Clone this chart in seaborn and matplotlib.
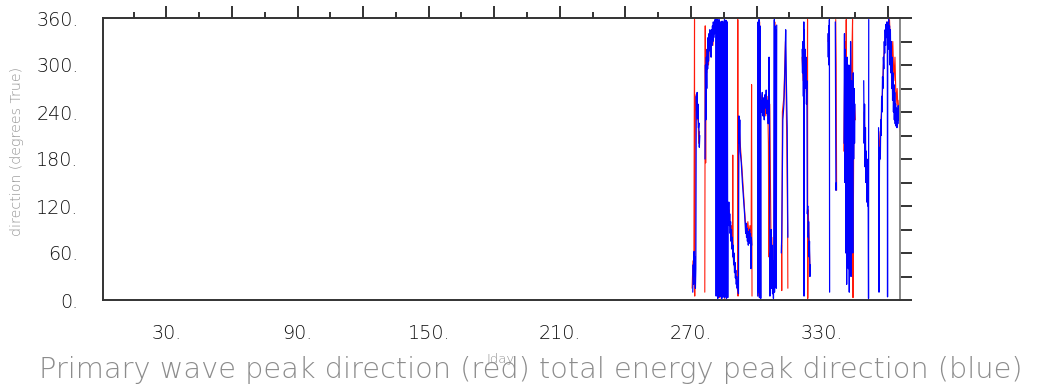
import numpy as np
import pandas as pd
import matplotlib
matplotlib.use('Agg')
import matplotlib.pyplot as plt
import seaborn as sns

# (jday, direction in degrees True); None marks a gap in the record
red_pts = [
    (270.5, 15), (270.9, 50), (271.3, 35), (271.6, 358), (271.7, 5), (271.9, 240), (272.3, 262),
    (272.7, 230), (273.1, 250), (273.5, 200), (273.9, 215),
    None,
    (276.3, 10), (276.5, 350), (276.7, 175), (276.9, 320), (277.2, 290), (277.6, 320), (278.0, 300),
    (278.5, 335), (279.0, 315), (279.5, 345), (280.0, 325), (280.5, 350), (281.0, 340), (281.5, 358),
    (282.0, 345), (282.3, 5), (282.5, 350), (283.0, 3), (283.2, 355), (283.8, 2), (284.0, 350),
    (284.6, 5), (284.8, 345), (285.4, 2), (285.6, 350), (286.2, 8), (286.5, 120), (287.0, 105),
    (287.5, 115), (288.0, 90), (288.5, 95), (289.0, 70), (289.1, 185), (289.2, 60), (289.5, 50),
    (290.0, 40), (290.5, 30), (291.0, 20), (291.3, 12), (291.4, 358), (291.5, 5), (291.8, 230),
    (292.5, 200), (293.5, 160), (294.5, 115), (295.0, 95), (295.5, 88), (296.0, 100), (296.5, 85),
    (297.0, 95), (297.5, 80), (297.7, 275), (297.9, 5),
    None,
    (300.6, 8), (300.8, 352), (301.0, 5), (301.4, 355), (301.8, 250), (302.5, 262), (303.0, 238),
    (303.6, 255), (304.2, 235), (304.8, 260), (305.2, 230), (305.4, 200), (305.6, 55), (306.0, 250),
    (306.5, 100), (306.7, 45), (307.0, 80), (307.5, 20), (308.0, 50), (308.3, 355), (308.5, 20),
    (309.0, 345),
    None,
    (311.4, 70), (311.5, 12), (311.8, 240), (312.5, 260), (313.2, 330), (313.8, 200), (314.2, 90),
    (314.3, 15),
    None,
    (320.8, 310), (321.3, 280), (321.8, 330), (322.3, 290), (322.8, 265), (323.2, 250), (323.3, 358),
    (323.4, 2), (323.6, 115), (323.9, 90), (324.2, 60), (324.5, 35),
    None,
    (332.7, 330), (333.0, 345), (333.3, 320),
    None,
    (336.2, 358), (336.4, 300), (336.6, 140),
    None,
    (339.9, 190), (340.4, 330), (340.8, 120), (341.0, 358), (341.2, 60), (341.6, 250), (342.0, 100),
    (342.5, 280), (343.0, 150), (343.5, 300), (343.9, 358), (344.1, 3), (344.4, 190), (344.8, 250),
    (345.2, 230),
    None,
    (349.2, 240), (349.6, 200), (350.0, 170), (350.4, 145), (350.8, 160),
    None,
    (355.9, 215), (356.3, 180), (356.8, 225), (357.4, 250), (358.0, 300), (358.6, 330), (359.2, 345),
    (359.8, 355), (360.3, 340), (360.8, 358), (361.3, 320), (361.8, 300), (362.3, 330), (362.8, 280),
    (363.3, 310), (363.8, 250), (364.3, 270), (364.8, 230), (365.2, 255), (365.4, 215),
]

blue_pts = [
    (270.8, 10), (271.0, 45), (271.2, 20), (271.4, 62), (271.6, 30), (271.8, 55), (272.0, 15),
    (272.2, 40), (272.4, 260), (272.6, 245), (272.8, 265), (273.0, 232), (273.2, 250), (273.4, 220),
    (273.6, 226), (273.8, 195), (274.0, 210),
    None,
    (276.4, 180), (276.6, 300), (276.8, 230), (277.0, 310), (277.2, 270), (277.4, 320), (277.6, 295),
    (277.8, 335), (278.0, 305), (278.2, 340), (278.4, 318), (278.6, 345), (278.8, 320), (279.0, 338),
    (279.2, 310), (279.4, 345), (279.6, 325), (279.8, 350), (280.0, 330), (280.2, 355), (280.4, 335),
    (280.6, 352), (280.8, 340), (281.0, 358), (281.2, 345), (281.4, 359), (281.5, 5), (281.6, 355),
    (281.8, 340), (282.0, 358), (282.2, 2), (282.3, 350), (282.5, 3), (282.6, 345), (282.8, 358),
    (283.0, 8), (283.1, 352), (283.3, 4), (283.4, 355), (283.6, 340), (283.8, 6), (283.9, 350),
    (284.1, 2), (284.2, 356), (284.4, 345), (284.6, 5), (284.7, 350), (284.9, 8), (285.0, 355),
    (285.2, 3), (285.3, 358), (285.5, 10), (285.6, 352), (285.8, 4), (286.0, 357), (286.2, 2),
    (286.3, 350), (286.5, 6), (286.6, 355), (286.8, 3),
    (286.9, 120), (287.1, 100), (287.3, 125), (287.5, 95), (287.7, 110), (287.9, 85), (288.1, 100),
    (288.3, 75), (288.5, 90), (288.7, 65), (288.9, 80), (289.1, 55), (289.3, 70), (289.5, 45),
    (289.7, 60), (289.9, 35), (290.1, 48), (290.3, 28), (290.5, 38), (290.7, 20), (290.9, 30),
    (291.1, 15), (291.3, 25), (291.5, 12), (291.7, 8), (291.9, 235), (292.1, 200), (292.3, 230),
    (292.5, 190), (293.0, 175), (293.5, 150), (294.0, 130), (294.5, 110), (294.8, 95), (295.0, 85),
    (295.2, 98), (295.4, 80), (295.6, 92), (295.8, 75), (296.0, 88), (296.2, 70), (296.4, 85),
    (296.6, 78), (296.8, 90), (297.0, 72), (297.2, 85), (297.4, 40), (297.6, 80), (297.8, 70),
    None,
    (300.5, 5), (300.7, 355), (300.9, 10), (301.1, 358), (301.3, 3), (301.5, 350), (301.7, 260),
    (301.9, 2), (302.0, 255), (302.3, 240), (302.6, 265), (302.9, 235), (303.2, 258), (303.5, 230),
    (303.8, 262), (304.1, 245), (304.4, 268), (304.7, 238), (305.0, 255), (305.3, 225), (305.5, 250),
    (305.7, 310), (305.9, 240), (306.1, 5), (306.3, 60), (306.5, 20), (306.7, 90), (306.9, 15),
    (307.1, 70), (307.3, 8), (307.5, 50), (307.7, 2), (307.9, 40), (308.1, 358), (308.2, 10),
    (308.4, 350), (308.6, 30), (308.8, 345), (309.0, 15), (309.2, 351),
    None,
    (311.3, 60), (311.5, 80), (312.0, 230), (312.5, 250), (313.0, 300), (313.3, 345), (313.6, 280),
    (314.0, 220), (314.3, 80),
    None,
    (320.8, 320), (321.0, 290), (321.2, 330), (321.4, 260), (321.6, 355), (321.7, 5), (321.8, 345),
    (322.0, 300), (322.2, 320), (322.4, 270), (322.6, 310), (322.8, 250), (323.0, 280), (323.2, 110),
    (323.4, 120), (323.6, 80), (323.8, 100), (324.0, 55), (324.2, 75), (324.4, 30), (324.5, 45),
    None,
    (332.6, 340), (332.8, 310), (333.0, 350), (333.1, 300), (333.3, 358), (333.4, 10),
    None,
    (336.0, 355), (336.3, 140), (336.5, 150),
    None,
    (340.0, 200), (340.2, 340), (340.4, 150), (340.6, 320), (340.8, 60), (341.0, 290), (341.2, 20),
    (341.4, 310), (341.6, 100), (341.8, 280), (342.0, 40), (342.2, 300), (342.4, 10), (342.6, 260),
    (342.8, 120), (343.0, 330), (343.2, 30), (343.4, 280), (343.6, 90), (343.8, 250), (344.0, 60),
    (344.2, 290), (344.4, 180), (344.6, 270), (344.8, 200), (345.0, 250),
    None,
    (349.0, 280), (349.2, 200), (349.4, 250), (349.6, 170), (349.8, 220), (350.0, 150), (350.2, 190),
    (350.4, 125), (350.6, 160), (350.8, 120), (351.0, 180), (351.2, 2), (351.3, 358),
    None,
    (355.8, 220), (356.0, 10), (356.2, 175), (356.4, 195), (356.6, 180), (356.8, 230), (357.0, 210),
    (357.2, 260), (357.4, 240), (357.6, 285), (357.8, 270), (358.0, 310), (358.2, 295), (358.4, 330),
    (358.6, 315), (358.8, 345), (359.0, 325), (359.2, 352), (359.4, 335), (359.6, 355), (359.8, 340),
    (359.9, 4), (360.0, 350), (360.2, 330), (360.4, 358), (360.6, 320), (360.8, 350), (361.0, 300),
    (361.2, 345), (361.4, 290), (361.6, 330), (361.8, 270), (362.0, 310), (362.2, 255), (362.4, 290),
    (362.6, 240), (362.8, 275), (363.0, 230), (363.2, 265), (363.4, 225), (363.6, 250), (363.8, 222),
    (364.0, 245), (364.2, 220), (364.4, 240), (364.6, 225), (364.8, 248), (365.0, 230), (365.3, 240),
]

xmajor = [30, 60, 90, 120, 150, 180, 210, 240, 270, 300, 330, 360]
xlabels = ['30.', '', '90.', '', '150.', '', '210.', '', '270.', '', '330.', '']
ymajor = [0, 60, 120, 180, 240, 300, 360]
ylabels = ['0.', '60.', '120.', '180.', '240.', '300.', '360.']

title = 'Primary wave peak direction (red) total energy peak direction (blue)'


def to_frame(pts):
    # split the point list into separate line segments at the gaps
    rows, seg = [], 0
    for p in pts:
        if p is None:
            seg += 1
            continue
        rows.append((seg, p[0], p[1]))
    return pd.DataFrame(rows, columns=['seg', 'jday', 'dir'])


red = to_frame(red_pts)
blue = to_frame(blue_pts)

sns.set_style('white')
plt.rcParams['font.family'] = ['DejaVu Sans']
plt.rcParams['font.weight'] = 'light'

fig = plt.figure(figsize=(10.38, 3.91), dpi=100)
ax = fig.add_axes([103 / 1038, 1 - 300 / 391, (900 - 103) / 1038, (300 - 18) / 391])

sns.lineplot(data=red, x='jday', y='dir', units='seg', estimator=None, sort=False,
             color='#ff1a0a', linewidth=0.8, legend=False, ax=ax)
sns.lineplot(data=blue, x='jday', y='dir', units='seg', estimator=None, sort=False,
             color='#0000ff', linewidth=0.9, legend=False, ax=ax)

ax.set_xlim(1, 365.6)
ax.set_ylim(0, 360)
ax.set_xticks(xmajor)
ax.set_xticklabels(xlabels)
ax.set_xticks(np.arange(15, 366, 30), minor=True)
ax.set_yticks(ymajor)
ax.set_yticklabels(ylabels)
ax.set_yticks(np.arange(30, 360, 60), minor=True)
ax.set_xlabel('')
ax.set_ylabel('')

ax.tick_params(which='both', direction='out', top=True, right=True,
               labeltop=False, labelright=False, width=1.4, color='#333333',
               labelsize=13.8, labelcolor='#111111', pad=9)
ax.tick_params(axis='x', which='major', length=8.6)
ax.tick_params(axis='x', which='minor', length=4.3)
ax.tick_params(axis='y', which='both', length=8.6)

for s in ax.spines.values():
    s.set_linewidth(1.4)
    s.set_color('#333333')
ax.spines['right'].set_color('#888888')

fig.text(17 / 1038, 1 - 151 / 391, 'direction (degrees True)', rotation=90,
         ha='center', va='center', fontsize=10.2, color='#8f8f8f')
fig.text(501 / 1038, 1 - 359 / 391, 'Jday', ha='center', va='center',
         fontsize=9.5, color='#8f8f8f')
fig.text(531 / 1038, 1 - 370 / 391, title, ha='center', va='center',
         fontsize=20.8, color='#8c8c8c')

fig.savefig('out.png', dpi=100)
